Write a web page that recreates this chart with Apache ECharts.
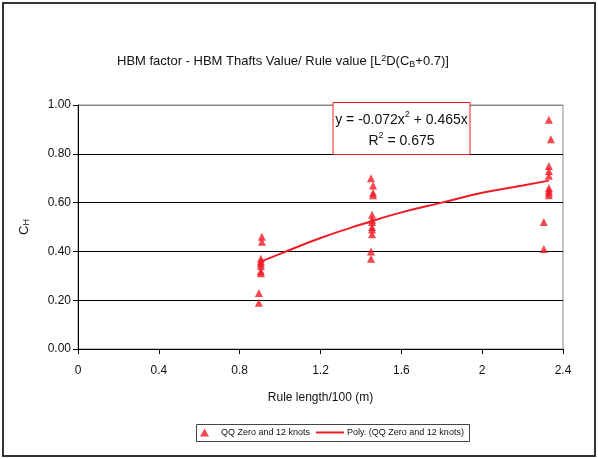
<!DOCTYPE html>
<html>
<head>
<meta charset="utf-8">
<script src="https://cdn.jsdelivr.net/npm/echarts@6/dist/echarts.min.js"></script>
<style>
html,body{margin:0;padding:0;background:#fff;}
#c{width:598px;height:459px;}
</style>
</head>
<body>
<div id="c"></div>
<script>
// Scatter data: [rule length/100, C_H]
var scatterX = [0.895, 0.895, 0.91, 0.91, 0.905, 0.905, 0.905, 0.905, 0.905, 0.905,
                1.45, 1.46, 1.46, 1.46, 1.455, 1.455, 1.455, 1.455, 1.455, 1.455, 1.45, 1.45,
                2.33, 2.34, 2.33, 2.33, 2.33, 2.33, 2.33, 2.33, 2.33, 2.305, 2.305];
var scatterY = [0.23, 0.19, 0.46, 0.44, 0.37, 0.36, 0.35, 0.34, 0.32, 0.31,
                0.70, 0.67, 0.64, 0.63, 0.55, 0.53, 0.52, 0.50, 0.49, 0.47, 0.40, 0.37,
                0.94, 0.86, 0.75, 0.73, 0.71, 0.66, 0.65, 0.64, 0.63, 0.52, 0.41];
// Trendline points
var trendX = [0.91, 1.0, 1.2, 1.4, 1.6, 1.8, 2.0, 2.2, 2.33];
var trendY = [0.36, 0.39, 0.455, 0.51, 0.56, 0.60, 0.64, 0.67, 0.69];
var xTicks = [0, 0.4, 0.8, 1.2, 1.6, 2, 2.4];
var yTicks = [0, 0.2, 0.4, 0.6, 0.8, 1.0];
var seriesNames = ['QQ Zero and 12 knots', 'Poly. (QQ Zero and 12 knots)'];

var scatterData = scatterX.map(function (x, i) { return [x, scatterY[i]]; });
var trendData = trendX.map(function (x, i) { return [x, trendY[i]]; });

var FONT = '"Liberation Sans", Arial, sans-serif';
var RED = '#ee1c24';
var TXT = '#111';

function rt(size, extra) {
  var o = {fontSize: size, color: TXT, fontFamily: FONT, fontWeight: 'normal'};
  if (extra) for (var k in extra) o[k] = extra[k];
  return o;
}

var chart = echarts.init(document.getElementById('c'), null, {renderer: 'canvas'});
chart.setOption({
  animation: false,
  backgroundColor: '#fff',
  textStyle: {fontFamily: FONT},
  title: [{
    text: '{t|HBM factor - HBM Thafts Value/ Rule value [L}{sup|2}{t|D(C}{sub|B}{t|+0.7)]}',
    left: 112,
    top: 49,
    textStyle: {
      fontWeight: 'normal',
      rich: {
        t: rt(13),
        sup: rt(9, {verticalAlign: 'top', padding: [0, 0, 6, 0]}),
        sub: rt(9, {verticalAlign: 'bottom', padding: [6, 0, 0, 0]})
      }
    }
  }, {
    text: '{t|y = -0.072x}{sup|2}{t| + 0.465x}\n{t|R}{sup|2}{t| = 0.675}',
    left: 399.5,
    top: 102,
    textAlign: 'center',
    padding: [8, 2, 6, 2],
    borderColor: RED,
    borderWidth: 1,
    backgroundColor: '#fff',
    textStyle: {
      fontWeight: 'normal',
      rich: {
        t: rt(14, {lineHeight: 21}),
        sup: rt(9, {lineHeight: 21, verticalAlign: 'top'})
      }
    }
  }],
  legend: [{
    orient: 'horizontal',
    left: 200,
    top: 428,
    padding: 0,
    itemWidth: 9,
    itemHeight: 8,
    textStyle: {fontSize: 9, color: TXT, fontFamily: FONT, padding: [0, 0, 0, 7]},
    data: [{name: seriesNames[0], icon: 'triangle'}]
  }, {
    orient: 'horizontal',
    left: 316,
    top: 428,
    padding: 0,
    itemWidth: 28,
    itemHeight: 8,
    textStyle: {fontSize: 9, color: TXT, fontFamily: FONT, padding: [0, 0, 0, -2]},
    data: [{name: seriesNames[1], icon: 'path://M0,3 L28,3 L28,5 L0,5 Z'}]
  }],
  grid: {
    left: 78, top: 105, width: 485, height: 244,
    show: true, borderColor: '#8a8a8a', borderWidth: 1, backgroundColor: 'transparent'
  },
  xAxis: {
    type: 'value',
    min: xTicks[0], max: xTicks[xTicks.length - 1], interval: 0.4,
    name: 'Rule length/100 (m)',
    nameLocation: 'middle',
    nameGap: 43,
    nameTextStyle: {fontSize: 12, color: TXT, fontFamily: FONT},
    axisLine: {show: true, lineStyle: {color: '#000', width: 1}},
    axisTick: {show: true, inside: false, length: 5, lineStyle: {color: '#000'}},
    axisLabel: {fontSize: 12, color: TXT, margin: 16, fontFamily: FONT},
    splitLine: {show: false}
  },
  yAxis: {
    type: 'value',
    min: yTicks[0], max: yTicks[yTicks.length - 1], interval: 0.2,
    name: '{c|C}{s|H}',
    nameLocation: 'middle',
    nameGap: 47,
    nameRotate: 90,
    nameTextStyle: {
      fontWeight: 'normal',
      rich: {
        c: rt(13),
        s: rt(9, {verticalAlign: 'bottom', padding: [5, 0, 0, 0]})
      }
    },
    axisLine: {show: true, lineStyle: {color: '#000', width: 1}},
    axisTick: {show: true, inside: false, length: 5, lineStyle: {color: '#000'}},
    axisLabel: {fontSize: 12, color: TXT, margin: 7, fontFamily: FONT,
      formatter: function (v) { return v.toFixed(2); }},
    splitLine: {show: true, lineStyle: {color: ['#000', '#000', '#000', '#000', '#000', '#8a8a8a'], width: 1}}
  },
  graphic: [{
    type: 'rect',
    shape: {x: 3, y: 3, width: 592, height: 453},
    style: {fill: 'none', stroke: '#333', lineWidth: 2},
    silent: true,
    z: -1
  }, {
    type: 'rect',
    shape: {x: 196.5, y: 424.5, width: 273, height: 17},
    style: {fill: 'none', stroke: '#444', lineWidth: 1},
    silent: true,
    z: -1
  }],
  series: [{
    name: seriesNames[0],
    type: 'scatter',
    symbol: 'triangle',
    symbolSize: [8, 8],
    itemStyle: {color: RED},
    data: scatterData,
    z: 3
  }, {
    name: seriesNames[1],
    type: 'line',
    smooth: true,
    showSymbol: false,
    symbol: 'none',
    lineStyle: {color: RED, width: 2},
    itemStyle: {color: RED},
    data: trendData,
    z: 4
  }]
});
</script>
</body>
</html>
